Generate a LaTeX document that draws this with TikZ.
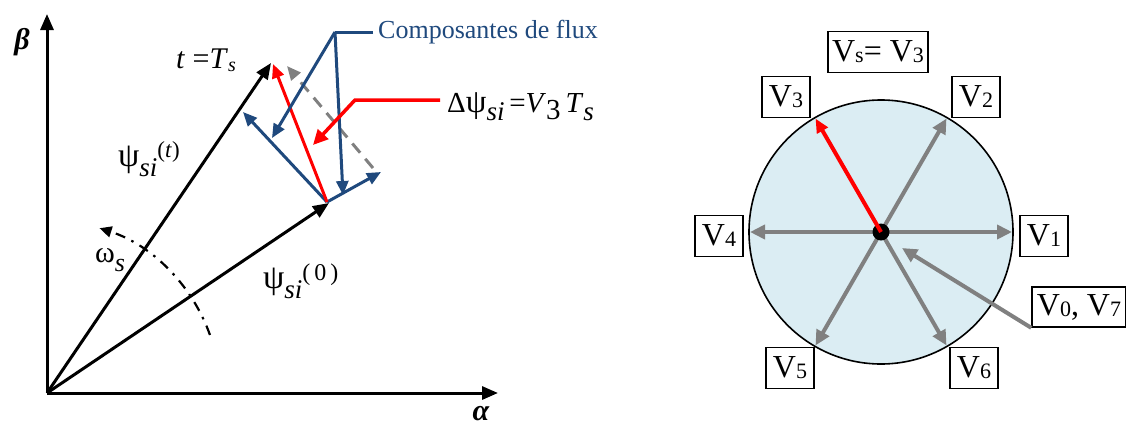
\documentclass[tikz,border=0pt]{standalone}
\usepackage{fontspec}
\setmainfont{Liberation Serif}
\usetikzlibrary{arrows.meta}
\definecolor{fluxblue}{RGB}{31,73,125}
\definecolor{circfill}{RGB}{219,237,243}
\definecolor{vgray}{RGB}{128,128,128}
\newcommand\dnsub[2][22]{\raisebox{-0.3em}{\fontsize{#1}{#1}\selectfont\itshape #2}}
\newcommand\vsub[1]{\raisebox{-1pt}{\fontsize{22}{22}\selectfont #1}}
\begin{document}
\begin{tikzpicture}[x=1pt,y=-1pt,
  blk/.style={line width=3pt,-{Triangle[length=16pt,width=13pt]}},
  blu/.style={line width=3pt,draw=fluxblue,-{Triangle[length=14pt,width=12pt]}},
  redarr/.style={line width=3pt,draw=red,-{Triangle[length=14pt,width=12pt]}},
  grayarr/.style={line width=4pt,draw=vgray,-{Triangle[length=15pt,width=14pt]}},
  vbox/.style={draw,line width=1.6pt,fill=white,inner sep=0pt,minimum height=41pt,font=\fontsize{32}{32}\selectfont},
  lbl/.style={inner sep=0pt,font=\fontsize{26}{26}\selectfont},
  dashdotline/.style={line width=2.2pt,dash pattern=on 10pt off 7pt on 2.5pt off 7pt}
]
\useasboundingbox (0,0) rectangle (1126,426);

% ---------- left diagram ----------
\coordinate (O) at (47,393);
\coordinate (Btop) at (47,14);
\coordinate (Aend) at (498,393);
\coordinate (P) at (329,203);
\coordinate (Q) at (271,63);
\coordinate (Pb) at (327,202);
\coordinate (Bpar) at (381,172);
\coordinate (Bperp) at (243,112);
\coordinate (Rtip) at (273,64);
\coordinate (Gs) at (373,168);
\coordinate (Gt) at (287,66);
\coordinate (bc) at (335,32);
\coordinate (bh) at (373,32);
\coordinate (bt1) at (272,138);
\coordinate (bt2) at (343,195);
\coordinate (rl) at (440,100);
\coordinate (rc) at (355,100);
\coordinate (rt) at (313,145);

\draw[blk] (O) -- (Btop);
\draw[blk] (O) -- (Aend);
\draw[blk] (O) -- (Q);
\draw[blk] (O) -- (P);

\draw[dashdotline,-{Triangle[length=12pt,width=11pt]}] ([shift={(-19.6:173)}]O) arc[start angle=-19.6,end angle=-72.3,radius=173];

\draw[line width=3pt,draw=vgray,dash pattern=on 12pt off 8pt,-{Triangle[length=14pt,width=12pt]}] (Gs) -- (Gt);
\draw[blu] (Pb) -- (Bpar);
\draw[blu] (Pb) -- (Bperp);
\draw[redarr] (Pb) -- (Rtip);
\draw[line width=3pt,draw=fluxblue] (bh) -- (bc);
\draw[blu] (bc) -- (bt1);
\draw[blu] (bc) -- (bt2);
\draw[line width=3.5pt,draw=red,-{Triangle[length=15pt,width=14pt]}] (rl) -- (rc) -- (rt);

\node[lbl,anchor=base west,text=fluxblue] (comp) at (378,38) {Composantes de flux};
\node[lbl,anchor=base west,font=\fontsize{29}{29}\selectfont] (dpsi) at (447,112) {Δ{\fontsize{33}{33}\selectfont ψ}\dnsub[27]{si}\,=\textit{V}\raisebox{-7pt}{3}\,\textit{T}\dnsub[27]{s}};
\node[lbl,anchor=base west,font=\fontsize{30}{30}\selectfont] (tts) at (176,68) {\textit{t} =\textit{T}\raisebox{-3pt}{\fontsize{20}{20}\selectfont\itshape s}};
\node[lbl,anchor=base west,font=\fontsize{34}{34}\selectfont] (psit) at (118,166) {ψ\dnsub[27]{si}\raisebox{9pt}{\fontsize{23}{23}\selectfont(\textit{t})}};
\node[lbl,anchor=base west,font=\fontsize{34}{34}\selectfont] (psi0) at (263,288) {ψ\dnsub[27]{si}\raisebox{8pt}{\fontsize{24}{24}\selectfont(\,0\,)}};
\node[lbl,anchor=base west,font=\fontsize{30}{30}\selectfont] (om) at (95,262) {ω\dnsub[26]{s}};
\node[lbl,font=\fontsize{30}{30}\selectfont\bfseries\itshape] (beta) at (22,42) {β};
\node[lbl,font=\fontsize{30}{30}\selectfont\bfseries\itshape] (alpha) at (481,414) {α};

% ---------- right diagram ----------
\coordinate (C) at (881,232);
\draw[line width=1.6pt,fill=circfill] (C) circle[radius=132];
\foreach \a in {0,-60,180,-240,-300}{
  \draw[grayarr] (C) -- ([shift={(\a:131)}]C);
}
\fill (C) circle[radius=8.5];
\draw[redarr,line width=4pt] (C) -- ([shift={(-120:131)}]C);
\node[vbox,minimum width=100pt] (vs) at (878,52) {V\vsub{s}= V\vsub{3}};
\node[vbox,minimum width=48pt] (v3) at (786,97) {V\vsub{3}};
\node[vbox,minimum width=48pt] (v2) at (976,97) {V\vsub{2}};
\node[vbox,minimum width=48pt] (v4) at (719,236) {V\vsub{4}};
\node[vbox,minimum width=48pt] (v1) at (1044,236) {V\vsub{1}};
\node[vbox,minimum width=48pt] (v5) at (790,368) {V\vsub{5}};
\node[vbox,minimum width=48pt] (v6) at (974,368) {V\vsub{6}};
\node[vbox,minimum width=94pt,minimum height=40pt] (v07) at (1079,307) {V\vsub{0}, V\vsub{7}};
\coordinate (t07) at (902,248);
\draw[grayarr] (v07.south west) -- (t07);
\end{tikzpicture}
\end{document}
